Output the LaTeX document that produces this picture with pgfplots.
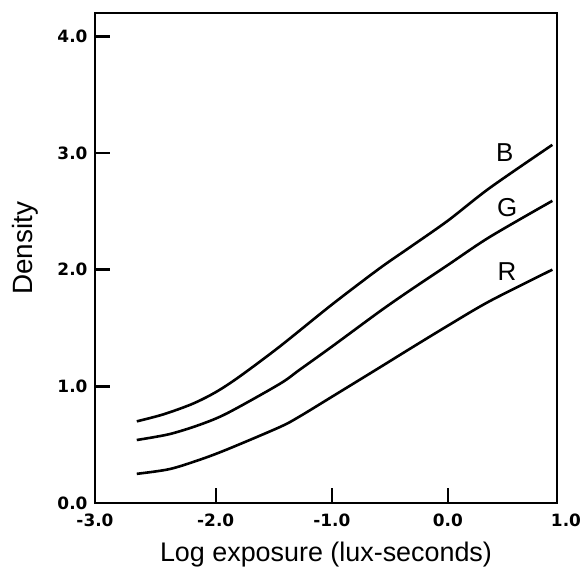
\documentclass[border=0pt]{standalone}
\usepackage{fontspec}
\setmainfont{Liberation Sans}
\newfontfamily\tickfont{DejaVu Sans}
\usepackage{pgfplots}
\pgfplotsset{compat=1.18}
\newcommand\tl[1]{{\tickfont\bfseries\fontsize{17}{17}\selectfont #1}}

\begin{document}
\begin{tikzpicture}
\path[use as bounding box] (-95bp,-79bp) rectangle (485bp,503bp);
\begin{axis}[
    at={(0,0)}, anchor=south west,
    scale only axis,
    width=462bp, height=490bp,
    xmin=-3.04, xmax=0.94,
    ymin=0, ymax=4.2,
    axis line style={line width=2.6bp},
    xtick={-3.04,-2,-1,0,0.94},
    xticklabels={\tl{-3.0},\tl{-2.0},\tl{-1.0},\tl{0.0},\tl{\hspace{18pt}1.0}},
    ytick={0,1,2,3,4},
    yticklabels={\tl{0.0},\tl{1.0},\tl{2.0},\tl{3.0},\tl{4.0}},
    tick align=inside,
    xtick pos=bottom, ytick pos=left,
    major tick length=15bp,
    tick style={line width=2.4bp, black},
    /pgf/number format/assume math mode=true,
    xticklabel style={yshift=-7bp},
    yticklabel style={xshift=-4bp},
    xlabel={Log exposure (lux-seconds)},
    ylabel={Density},
    xlabel style={font=\fontsize{27}{27}\selectfont,
        at={(axis description cs:0.5,0)}, anchor=center, yshift=-52bp},
    ylabel style={font=\fontsize{28}{28}\selectfont,
        at={(axis description cs:-0.1515,0.52)}, anchor=center},
]
\addplot[black, line width=2.6bp, smooth] coordinates {
    (-2.68,0.70) (-2.45,0.76) (-2.2,0.85) (-2.0,0.95) (-1.8,1.08) (-1.45,1.34)
    (-1.0,1.70) (-0.59,2.01) (-0.33,2.19) (0,2.42) (0.36,2.70) (0.9,3.07)
};
\addplot[black, line width=2.6bp, smooth] coordinates {
    (-2.68,0.54) (-2.4,0.59) (-2.14,0.67) (-1.9,0.77) (-1.45,1.02)
    (-1.28,1.14) (-1.0,1.34) (-0.59,1.64) (-0.33,1.82) (0,2.04) (0.36,2.28) (0.9,2.59)
};
\addplot[black, line width=2.6bp, smooth] coordinates {
    (-2.68,0.25) (-2.4,0.29) (-2.14,0.37) (-1.9,0.46) (-1.45,0.65)
    (-1.28,0.74) (-1.0,0.91) (-0.59,1.16) (-0.33,1.32) (0,1.52) (0.36,1.73) (0.9,2.00)
};
\node[font=\fontsize{26}{26}\selectfont] at (axis cs:0.49,3.0) {B};
\node[font=\fontsize{26}{26}\selectfont] at (axis cs:0.51,2.53) {G};
\node[font=\fontsize{26}{26}\selectfont] at (axis cs:0.51,1.98) {R};
\end{axis}
\end{tikzpicture}
\end{document}
